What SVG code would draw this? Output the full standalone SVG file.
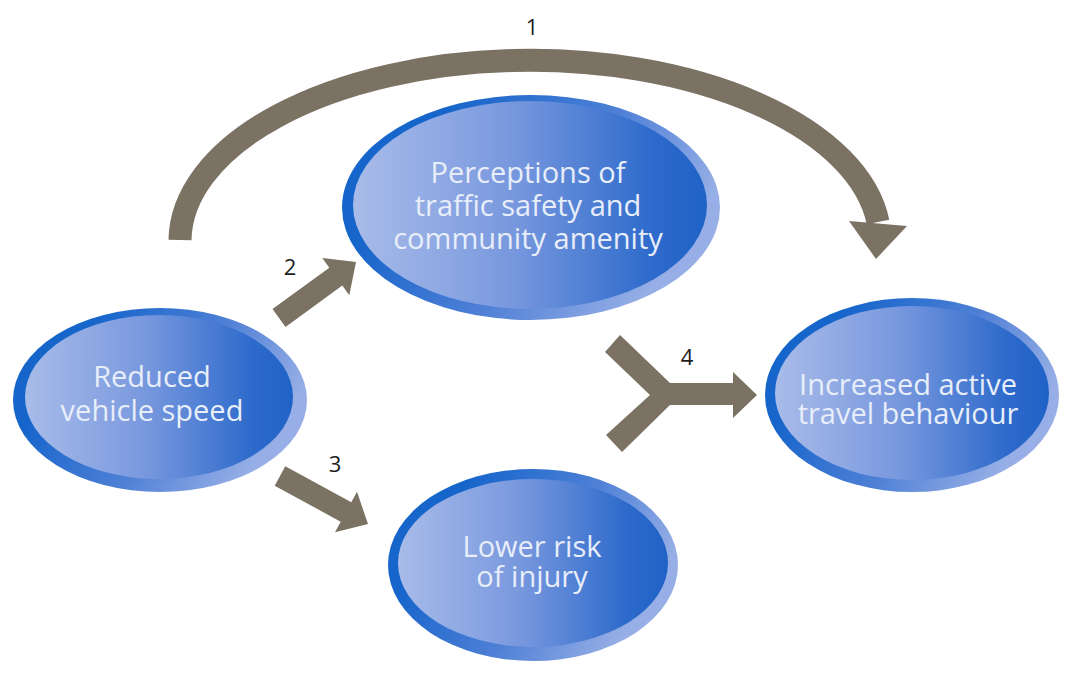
<svg xmlns="http://www.w3.org/2000/svg" width="1075" height="679" viewBox="0 0 1075 679">
  <style>
    .ring { fill: url(#ringGrad); }
    .core { fill: url(#coreGrad); }
    .lbl { font-family: "Open Sans", "Noto Sans", sans-serif; font-size: 29px; fill: #e8eef9; text-anchor: middle; }
    .num { font-family: "Open Sans", "Noto Sans", sans-serif; font-size: 22px; fill: #1e1e1e; text-anchor: middle; }
    .arw { fill: #7b7263; }
  </style>
  <defs>
    <linearGradient id="ringGrad" x1="0" y1="0.3" x2="1" y2="0.7">
      <stop offset="0.15" stop-color="#1665cb"/>
      <stop offset="0.55" stop-color="#4f80d6"/>
      <stop offset="0.9" stop-color="#97afe6"/>
    </linearGradient>
    <linearGradient id="coreGrad" x1="0" y1="0" x2="1" y2="0">
      <stop offset="0" stop-color="#a9bce9"/>
      <stop offset="0.45" stop-color="#7898de"/>
      <stop offset="0.85" stop-color="#2d6acb"/>
      <stop offset="1" stop-color="#1f62c6"/>
    </linearGradient>
  </defs>
  <rect width="1075" height="679" fill="#ffffff"/>

  <g id="connectors">
    <g id="arrow1">
      <path d="M180,240 A350,181 0 0 1 878,222" fill="none" stroke="#7b7263" stroke-width="23"/>
      <polygon class="arw" points="849,221 907,226 876,259"/>
    </g>
    <polygon id="arrow2" class="arw" points="272.5,309.1 329.3,267.8 322.3,258.1 356,262 349.3,295.3 342.3,285.6 285.5,326.9"/>
    <polygon id="arrow3" class="arw" points="285.3,466.3 351.3,502.3 357,491.8 368,524 335,532.2 340.7,521.7 274.7,485.7"/>
    <polygon id="arrow4" class="arw" points="620,335 670,383 733,383 733,372 757,395 733,418 733,405 670,405 622,452 606,435 650,395 605,352"/>
    <text class="num" x="532" y="35">1</text>
    <text class="num" x="290" y="275">2</text>
    <text class="num" x="335" y="472">3</text>
    <text class="num" x="687" y="365">4</text>
  </g>

  <g id="node-reduced-speed">
    <ellipse class="ring" cx="160" cy="400" rx="147" ry="92"/>
    <ellipse class="core" cx="159" cy="397" rx="134" ry="82"/>
    <text class="lbl" x="152" y="387">Reduced</text>
    <text class="lbl" x="152" y="421">vehicle speed</text>
  </g>

  <g id="node-perceptions">
    <ellipse class="ring" cx="531" cy="207.5" rx="189" ry="112.5"/>
    <ellipse class="core" cx="530" cy="205" rx="177" ry="104"/>
    <text class="lbl" x="528" y="183">Perceptions of</text>
    <text class="lbl" x="528" y="216">traffic safety and</text>
    <text class="lbl" x="528" y="249">community amenity</text>
  </g>

  <g id="node-lower-risk">
    <ellipse class="ring" cx="533" cy="565" rx="145" ry="96"/>
    <ellipse class="core" cx="533" cy="563" rx="135" ry="84"/>
    <text class="lbl" x="532" y="557">Lower risk</text>
    <text class="lbl" x="532" y="587">of injury</text>
  </g>

  <g id="node-active-travel">
    <ellipse class="ring" cx="912" cy="395" rx="147" ry="97"/>
    <ellipse class="core" cx="912" cy="393" rx="137" ry="87"/>
    <text class="lbl" x="908" y="395">Increased active</text>
    <text class="lbl" x="908" y="424">travel behaviour</text>
  </g>
</svg>
